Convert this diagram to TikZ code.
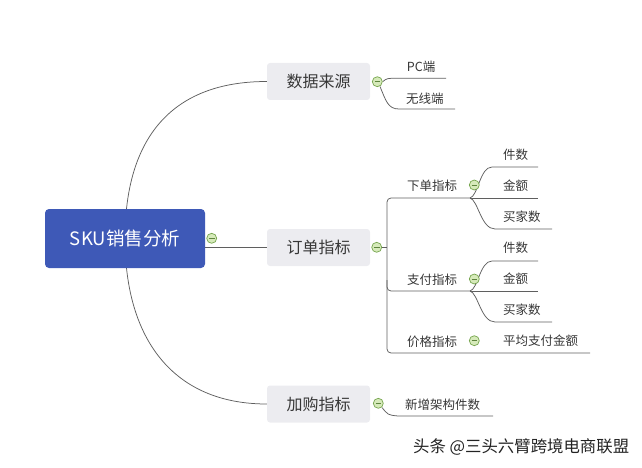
\documentclass[tikz,border=0pt]{standalone}
\usepackage{fontspec}
\setmainfont{Noto Sans CJK SC}
\usetikzlibrary{backgrounds}
\definecolor{rootblue}{RGB}{62,89,183}
\definecolor{boxgray}{RGB}{236,236,240}
\definecolor{linegray}{RGB}{95,95,95}
\definecolor{txt}{RGB}{55,55,55}
\definecolor{tgfill}{RGB}{214,234,186}
\definecolor{tgline}{RGB}{118,165,78}
\definecolor{wmc}{RGB}{35,35,35}
\tikzset{
  rootbox/.style={rectangle, rounded corners=4pt, fill=rootblue, text=white, minimum width=160pt, minimum height=59pt, inner sep=0pt, font=\fontsize{18.5}{20}\selectfont},
  topicbox/.style={rectangle, rounded corners=3pt, fill=boxgray, text=txt, minimum width=103pt, minimum height=37pt, inner sep=0pt, font=\fontsize{16}{18}\selectfont},
  leaftext/.style={anchor=west, text=txt, inner sep=0pt, font=\fontsize{12.5}{14}\selectfont},
  toggle/.style={circle, draw=tgline, fill=tgfill, minimum size=10pt, inner sep=0pt, line width=0.7pt,
    path picture={\draw[tgline!80!black, line width=0.7pt] ([xshift=-2.8pt]path picture bounding box.center) -- ([xshift=2.8pt]path picture bounding box.center);}},
  conn/.style={draw=linegray, line width=0.75pt},
}
\begin{document}
\begin{tikzpicture}[x=1pt,y=-1pt]
\useasboundingbox (0,0) rectangle (642,468);
% nodes
\node[rootbox] (root) at (125,238.5) {SKU销售分析};
\node[topicbox] (t1) at (318.5,81.5) {数据来源};
\node[topicbox] (t2) at (318.5,247.5) {订单指标};
\node[topicbox] (t3) at (318.5,404) {加购指标};
\node[toggle] (tg0) at (211.7,238.3) {};
\node[toggle] (tg1) at (377.3,81.7) {};
\node[toggle] (tg2) at (376.7,247.3) {};
\node[toggle] (tg3) at (378.3,403.3) {};
\node[toggle] (tg21) at (474.3,185) {};
\node[toggle] (tg22) at (474.3,279) {};
\node[toggle] (tg23) at (474.3,340.7) {};
% leaf texts
\node[leaftext] (pc) at (406.7,66.7) {PC端};
\node[leaftext] (wx) at (406,98.3) {无线端};
\node[leaftext] (xd) at (407,186) {下单指标};
\node[leaftext] (zf) at (407,280) {支付指标};
\node[leaftext] (jg) at (407,342) {价格指标};
\node[leaftext] (xd1) at (503,155) {件数};
\node[leaftext] (xd2) at (503,186) {金额};
\node[leaftext] (xd3) at (503,217) {买家数};
\node[leaftext] (zf1) at (503,248) {件数};
\node[leaftext] (zf2) at (503,279) {金额};
\node[leaftext] (zf3) at (503,310) {买家数};
\node[leaftext] (jg1) at (503,341) {平均支付金额};
\node[leaftext] (jx) at (405,405) {新增架构件数};
\node[anchor=west, inner sep=0pt, text=wmc, font=\fontsize{16.4}{18}\selectfont] (wm) at (413,447) {头条 @三头六臂跨境电商联盟};
% coordinates
\coordinate (pcE) at (446,78.3);
\coordinate (wxE) at (455,109);
\coordinate (trunk) at (387,247.3);
\coordinate (xdJ) at (470,198);
\coordinate (zfJ) at (470,291);
\coordinate (xd1E) at (538,167);
\coordinate (xd2E) at (538,198);
\coordinate (xd3E) at (552,229);
\coordinate (zf1E) at (538,261);
\coordinate (zf2E) at (538,291);
\coordinate (zf3E) at (552,322);
\coordinate (jgE) at (590,353);
\coordinate (jxE) at (493,416);
\begin{scope}[on background layer]
  % main branches
  \draw[conn] (root.center) .. controls (125,140) and (170,81.5) .. (t1.west);
  \draw[conn] (root.center) .. controls (125,340) and (174,404) .. (t3.west);
  \draw[conn] (root.east |- t2.west) -- (t2.west);
  % data sources
  \draw[conn] (tg1.east) .. controls (387,78.3) .. (396,78.3) -- (pcE);
  \draw[conn] (380,86.5) .. controls (386,101) and (388,109) .. (399,109) -- (wxE);
  % order metrics trunk
  \draw[conn] (tg2.east) -- (trunk);
  \draw[conn, rounded corners=4pt] (xdJ) -- (387,198) -- (387,353) -- (jgE);
  \draw[conn, rounded corners=4pt] (387,280) -- (387,291) -- (zfJ);
  % order sub-branches
  \draw[conn] (xdJ) .. controls (478,196) and (480,167) .. (492,167) -- (xd1E);
  \draw[conn] (xdJ) -- (xd2E);
  \draw[conn] (xdJ) .. controls (478,200) and (481,229) .. (495,229) -- (xd3E);
  \draw[conn] (zfJ) .. controls (478,289) and (480,261) .. (492,261) -- (zf1E);
  \draw[conn] (zfJ) -- (zf2E);
  \draw[conn] (zfJ) .. controls (478,293) and (481,322) .. (495,322) -- (zf3E);
  % add-to-cart
  \draw[conn] (382,407.5) .. controls (388,415) .. (398,416) -- (jxE);
\end{scope}
\end{tikzpicture}
\end{document}
